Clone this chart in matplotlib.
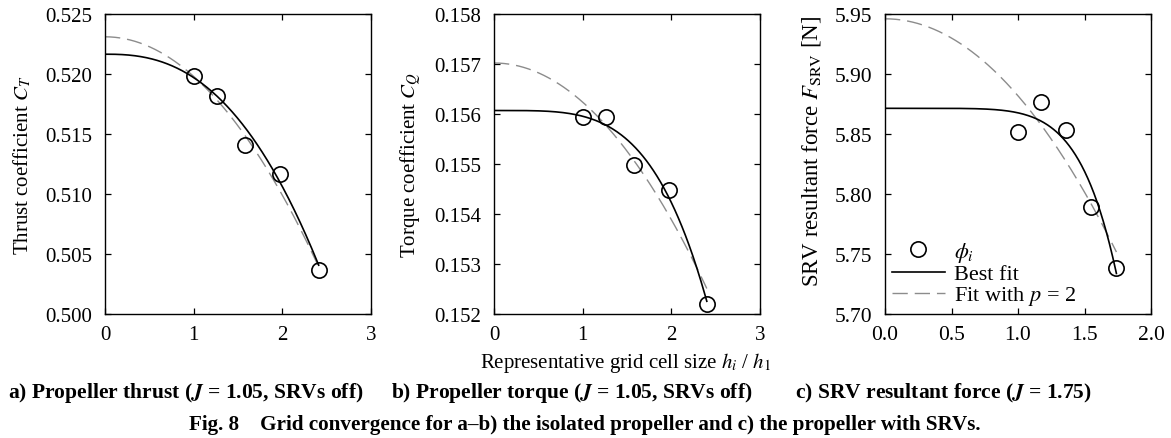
import numpy as np
import matplotlib
matplotlib.use("Agg")
import matplotlib.pyplot as plt

plt.rcParams['font.family'] = ['Liberation Serif', 'DejaVu Serif']
plt.rcParams['mathtext.fontset'] = 'stix'

# grid cell size ratio h_i / h_1 and the solution values phi_i
h_thrust = [1.00, 1.26, 1.58, 1.97, 2.41]
ct_vals = [0.5198, 0.5182, 0.5141, 0.5117, 0.5037]

h_torque = [1.00, 1.26, 1.58, 1.97, 2.40]
cq_vals = [0.15595, 0.15595, 0.15499, 0.15449, 0.15221]

h_srv = [1.00, 1.17, 1.36, 1.55, 1.74]
fsrv_vals = [5.8519, 5.8764, 5.8536, 5.7892, 5.7381]

# fitted phi = phi0 - alpha * h**p  (phi0, alpha, p)
best_fit = [(0.52165, 0.00195, 2.5), (0.15607, 0.000115, 4.0), (5.8714, 0.00376, 6.5)]
p2_fit = [(0.5231, 0.0033, 2.0), (0.15702, 0.000783, 2.0), (5.946, 0.0642, 2.0)]

ylabels = ['Thrust coefficient $C_T$', 'Torque coefficient $C_Q$',
           r'SRV resultant force $F_\mathrm{SRV}$ [N]']
ylims = [(0.500, 0.525), (0.152, 0.158), (5.70, 5.95)]
yticks = [np.arange(0.500, 0.5251, 0.005), np.arange(0.152, 0.15801, 0.001),
          np.arange(5.70, 5.951, 0.05)]
yfmt = ['%.3f', '%.3f', '%.2f']
xlims = [(0, 3), (0, 3), (0, 2)]
xticks = [[0, 1, 2, 3], [0, 1, 2, 3], [0.0, 0.5, 1.0, 1.5, 2.0]]
xfmt = ['%d', '%d', '%.1f']
subcaps = [r'a) Propeller thrust ($\mathbfit{J}$ = 1.05, SRVs off)',
           r'b) Propeller torque ($\mathbfit{J}$ = 1.05, SRVs off)',
           r'c) SRV resultant force ($\mathbfit{J}$ = 1.75)']

fig = plt.figure(figsize=(11.71, 4.39), dpi=100)
lefts = [105, 494, 885]
axes = [fig.add_axes([l / 1171, 1 - 315 / 439, 266 / 1171, 300 / 439]) for l in lefts]
label_sizes = [15, 15, 16.5]
tick_sizes = [15, 15, 15.5]
label_xy = [(-0.271, 0.5), (-0.267, 0.5), (-0.233, 0.547)]

datasets = [(h_thrust, ct_vals), (h_torque, cq_vals), (h_srv, fsrv_vals)]
for i, ax in enumerate(axes):
    h, phi = datasets[i]
    xs = np.linspace(0, h[-1], 300)
    p0, a, p = p2_fit[i]
    ax.plot(xs, p0 - a * xs**p, color='#8c8c8c', lw=1.0, dashes=(11, 5),
            label='Fit with $p$ = 2', zorder=2)
    p0, a, p = best_fit[i]
    ax.plot(xs, p0 - a * xs**p, color='black', lw=1.2, label='Best fit', zorder=3)
    ax.plot(h, phi, 'o', ms=11, mfc='none', mec='black', mew=1.2,
            label=r'$\phi_i$', zorder=4)

    ax.set_xlim(*xlims[i])
    ax.set_ylim(*ylims[i])
    ax.set_xticks(xticks[i])
    ax.set_xticklabels([xfmt[i] % v for v in xticks[i]])
    ax.set_yticks(yticks[i])
    ax.set_yticklabels([yfmt[i] % v for v in yticks[i]])
    ax.tick_params(direction='in', top=True, right=True, length=4, width=0.9,
                   labelsize=tick_sizes[i])
    ax.tick_params(axis='y', pad=9)
    ax.tick_params(axis='x', pad=8)
    for s in ax.spines.values():
        s.set_linewidth(1.0)
    ax.set_ylabel(ylabels[i], fontsize=label_sizes[i])
    ax.yaxis.set_label_coords(*label_xy[i])

    fig.text([186, 572, 943][i] / 1171, 1 - 393 / 439, subcaps[i],
             ha='center', va='center', fontsize=15.5, fontweight='bold')

h_, l_ = axes[2].get_legend_handles_labels()
axes[2].legend([h_[2], h_[1], h_[0]], [l_[2], l_[1], l_[0]], loc='lower left',
               frameon=False, fontsize=16, handlelength=2.4, borderaxespad=0.1,
               labelspacing=0.0, handletextpad=0.4, borderpad=0.2)

fig.text(626 / 1171, 1 - 363 / 439, 'Representative grid cell size $h_i$ / $h_1$',
         ha='center', va='center', fontsize=15)
fig.text(585 / 1171, 1 - 425 / 439,
         'Fig. 8    Grid convergence for a\u2013b) the isolated propeller and c) the propeller with SRVs.',
         ha='center', va='center', fontsize=15.2, fontweight='bold')

fig.savefig('out.png', dpi=100)
